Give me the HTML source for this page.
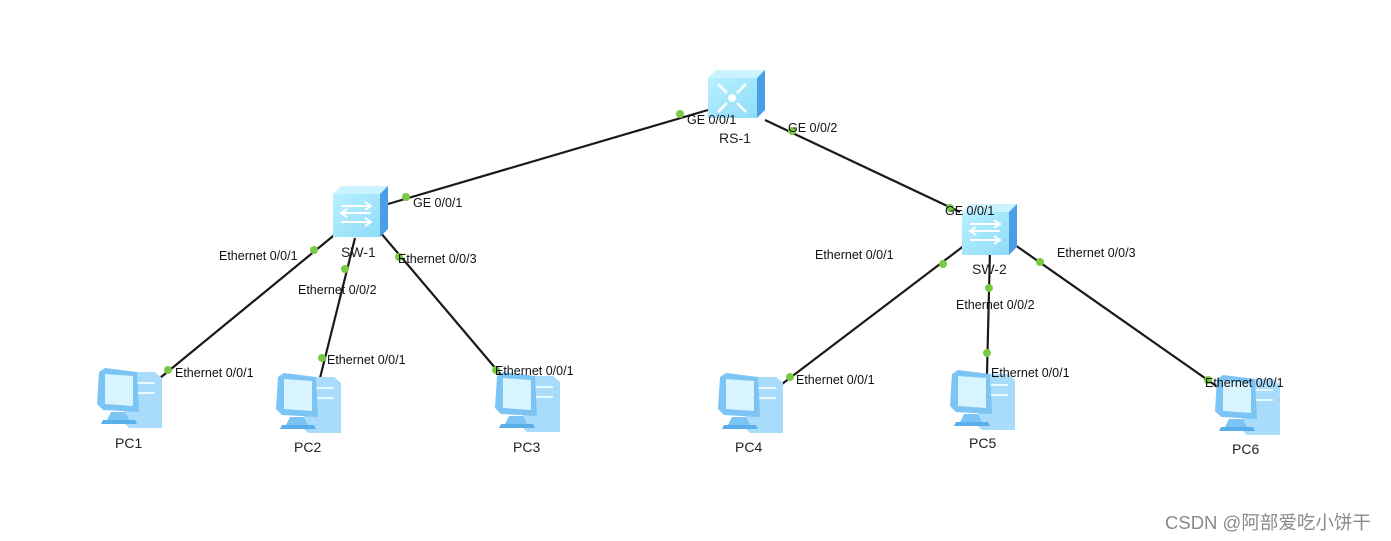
<!DOCTYPE html>
<html><head><meta charset="utf-8"><style>
html,body{margin:0;padding:0;background:#fff;}
svg{display:block;}
text{font-family:"Liberation Sans",Arial,sans-serif;}
.p{font-size:12.5px;fill:#111;}
.d{font-size:14px;fill:#222;}
</style></head><body>
<svg width="1391" height="541" viewBox="0 0 1391 541" xmlns="http://www.w3.org/2000/svg">
<defs>
<linearGradient id="fg" x1="0" y1="0" x2="1" y2="1"><stop offset="0" stop-color="#b8f0ff"/><stop offset="1" stop-color="#8fdcf8"/></linearGradient>
<g id="sw">
 <polygon points="0,8 8,0 55,0 47,8" fill="#c9f3ff"/>
 <rect x="0" y="8" width="47" height="43" fill="url(#fg)"/>
 <polygon points="47,8 55,0 55,43 47,51" fill="#4a9ee8"/>
 <g stroke="#fff" stroke-width="2" fill="none">
  <path d="M8,20 H38 M32,16 L38,20 L32,24"/>
  <path d="M38,27 H8 M14,23 L8,27 L14,31"/>
  <path d="M8,36 H38 M32,32 L38,36 L32,40"/>
 </g>
</g>
<g id="rs">
 <polygon points="0,8 8,0 57,0 49,8" fill="#c9f3ff"/>
 <rect x="0" y="8" width="49" height="40" fill="url(#fg)"/>
 <polygon points="49,8 57,0 57,40 49,48" fill="#4a9ee8"/>
 <circle cx="24" cy="28" r="4" fill="#fff"/>
 <g stroke="#fff" stroke-width="2.5" fill="none">
  <path d="M10,14 L19,23 M10,42 L19,33 M38,14 L29,23 M38,42 L29,33"/>
 </g>
</g>
<g id="pc">
 <polygon points="28,4 58,4 65,10 65,60 32,60 28,56" fill="#a8dcfa"/>
 <rect x="40" y="14" width="18" height="2" fill="#e8f8ff"/>
 <rect x="40" y="24" width="18" height="2" fill="#e8f8ff"/>
 <polygon points="8,0 40,4 42,44 6,42 0,36 2,4" fill="#7cc4f4"/>
 <polygon points="8,6 36,8 36,38 8,36" fill="#d8f4ff"/>
 <polygon points="14,44 28,44 32,52 10,52" fill="#7cc4f4"/>
 <polygon points="6,52 38,52 40,56 4,56" fill="#5aaeea"/>
</g>
</defs>

<g stroke="#1a1a1a" stroke-width="2.2" fill="none">
 <line x1="708" y1="110" x2="388" y2="204"/>
 <line x1="765" y1="120" x2="960" y2="212"/>
 <line x1="338" y1="232" x2="160" y2="378"/>
 <line x1="355" y1="238" x2="320" y2="378"/>
 <line x1="380" y1="232" x2="502" y2="376"/>
 <line x1="965" y1="245" x2="782" y2="384"/>
 <line x1="990" y1="250" x2="987" y2="374"/>
 <line x1="1015" y1="245" x2="1222" y2="390"/>
</g>

<use href="#rs" x="708" y="70"/>
<use href="#sw" x="333" y="186"/>
<use href="#sw" x="962" y="204"/>
<use href="#pc" x="97" y="368"/>
<use href="#pc" x="276" y="373"/>
<use href="#pc" x="495" y="372"/>
<use href="#pc" x="718" y="373"/>
<use href="#pc" x="950" y="370"/>
<use href="#pc" x="1215" y="375"/>

<g fill="#7ac943">
 <circle cx="680" cy="114" r="4"/><circle cx="406" cy="197" r="4"/>
 <circle cx="792" cy="131" r="4"/><circle cx="950" cy="208" r="4"/>
 <circle cx="314" cy="250" r="4"/><circle cx="168" cy="370" r="4"/>
 <circle cx="345" cy="269" r="4"/><circle cx="322" cy="358" r="4"/>
 <circle cx="399" cy="257" r="4"/><circle cx="496" cy="370" r="4"/>
 <circle cx="943" cy="264" r="4"/><circle cx="790" cy="377" r="4"/>
 <circle cx="989" cy="288" r="4"/><circle cx="987" cy="353" r="4"/>
 <circle cx="1040" cy="262" r="4"/><circle cx="1208" cy="380" r="4"/>
</g>

<text class="p" x="687" y="124">GE 0/0/1</text>
<text class="p" x="788" y="132">GE 0/0/2</text>
<text class="p" x="413" y="207">GE 0/0/1</text>
<text class="p" x="945" y="215">GE 0/0/1</text>
<text class="p" x="219" y="260">Ethernet 0/0/1</text>
<text class="p" x="298" y="294">Ethernet 0/0/2</text>
<text class="p" x="398" y="263">Ethernet 0/0/3</text>
<text class="p" x="175" y="377">Ethernet 0/0/1</text>
<text class="p" x="327" y="364">Ethernet 0/0/1</text>
<text class="p" x="495" y="375">Ethernet 0/0/1</text>
<text class="p" x="815" y="259">Ethernet 0/0/1</text>
<text class="p" x="956" y="309">Ethernet 0/0/2</text>
<text class="p" x="1057" y="257">Ethernet 0/0/3</text>
<text class="p" x="796" y="384">Ethernet 0/0/1</text>
<text class="p" x="991" y="377">Ethernet 0/0/1</text>
<text class="p" x="1205" y="387">Ethernet 0/0/1</text>

<text class="d" x="719" y="143">RS-1</text>
<text class="d" x="341" y="257">SW-1</text>
<text class="d" x="972" y="274">SW-2</text>
<text class="d" x="115" y="448">PC1</text>
<text class="d" x="294" y="452">PC2</text>
<text class="d" x="513" y="452">PC3</text>
<text class="d" x="735" y="452">PC4</text>
<text class="d" x="969" y="448">PC5</text>
<text class="d" x="1232" y="454">PC6</text>

<text x="1165" y="529" style="font-size:18.5px;fill:#8a8a8a;font-family:'Liberation Sans','Noto Sans CJK SC',sans-serif;">CSDN @阿部爱吃小饼干</text>
</svg>
</body></html>
